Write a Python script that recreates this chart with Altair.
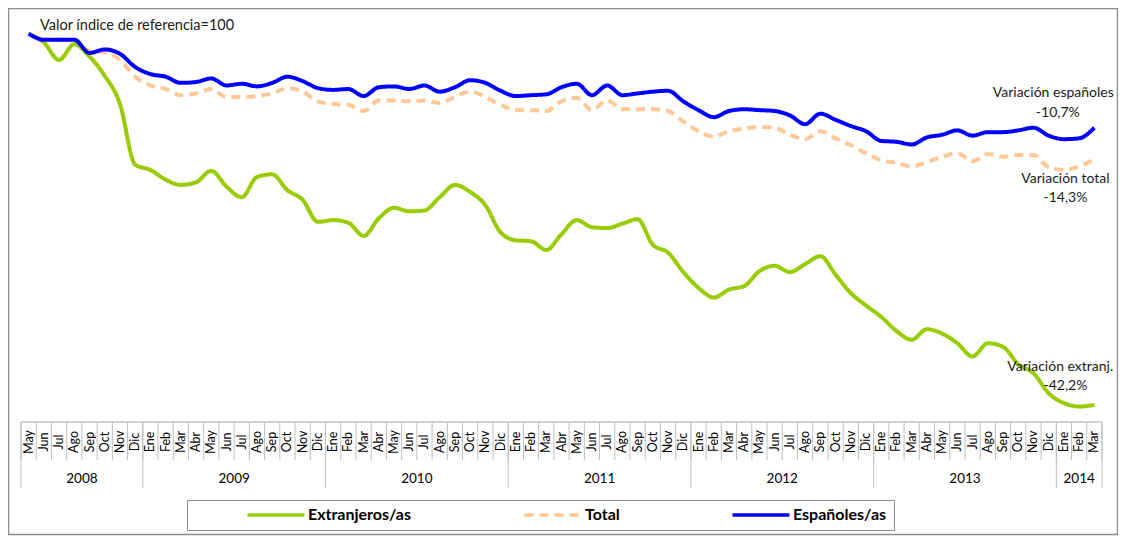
import altair as alt
import pandas as pd

# ---------------- data ----------------
months = (["May", "Jun", "Jul", "Ago", "Sep", "Oct", "Nov", "Dic"]
          + ["Ene", "Feb", "Mar", "Abr", "May", "Jun", "Jul", "Ago", "Sep", "Oct", "Nov", "Dic"] * 5
          + ["Ene", "Feb", "Mar"])
years = ["2008", "2009", "2010", "2011", "2012", "2013", "2014"]
year_counts = [8, 12, 12, 12, 12, 12, 3]

extranjeros = [100.0, 99.0, 97.0, 98.8, 97.4, 95.2, 92.0, 85.1, 84.5, 83.4, 82.8, 83.1,
               84.4, 82.6, 81.4, 83.7, 84.0, 82.2, 81.1, 78.6, 78.8, 78.5, 77.0, 79.0,
               80.2, 79.8, 79.9, 81.4, 82.8, 82.0, 80.5, 77.4, 76.5, 76.4, 75.4, 77.2,
               78.8, 78.0, 77.9, 78.4, 78.9, 76.0, 75.1, 72.9, 71.1, 70.0, 70.9, 71.3,
               73.0, 73.6, 72.9, 73.8, 74.7, 72.6, 70.5, 69.1, 67.8, 66.2, 65.2, 66.4,
               65.9, 64.8, 63.3, 64.8, 64.4, 62.4, 61.4, 59.1, 58.0, 57.6, 57.8]
total = [100.0, 99.3, 99.3, 99.3, 98.0, 97.9, 97.0, 95.1, 94.1, 93.7, 93.0, 93.2,
         93.7, 92.8, 92.8, 92.9, 93.2, 93.8, 93.4, 92.3, 92.0, 91.9, 91.2, 92.4,
         92.4, 92.3, 92.4, 92.1, 92.8, 93.4, 92.8, 91.9, 91.3, 91.3, 91.2, 92.3,
         92.7, 91.3, 92.4, 91.4, 91.4, 91.4, 91.2, 90.0, 88.9, 88.3, 88.9, 89.2,
         89.4, 89.3, 88.5, 88.0, 88.9, 88.1, 87.3, 86.4, 85.6, 85.3, 84.9, 85.4,
         86.0, 86.4, 85.5, 86.3, 86.0, 86.2, 86.2, 84.8, 84.5, 84.9, 85.7]
espanoles = [100.0, 99.3, 99.3, 99.3, 97.8, 98.2, 97.7, 96.2, 95.4, 95.1, 94.4, 94.5,
             94.9, 94.1, 94.3, 94.0, 94.4, 95.1, 94.6, 93.8, 93.6, 93.7, 92.9, 93.9,
             94.0, 93.7, 94.1, 93.4, 93.9, 94.7, 94.4, 93.5, 92.9, 93.0, 93.1, 93.9,
             94.3, 93.0, 94.1, 93.0, 93.2, 93.4, 93.5, 92.3, 91.3, 90.5, 91.2, 91.4,
             91.3, 91.2, 90.7, 89.7, 90.9, 90.2, 89.5, 88.9, 87.8, 87.7, 87.4, 88.2,
             88.5, 89.0, 88.4, 88.8, 88.8, 89.0, 89.3, 88.4, 88.0, 88.1, 89.3]

series_names = ["Extranjeros/as", "Total", "Españoles/as"]
series_colors = ["#99CC00", "#FFC896", "#0000FF"]
series_dash = [[1, 0], [9, 6], [1, 0]]

# annotation texts and their anchor (month index, index value)
ann_text = ["Variación españoles", "-10,7%", "Variación total", "-14,3%",
            "Variación extranj.", "-42,2%"]
ann_x = [67.3, 67.6, 68.1, 68.1, 67.76, 68.1]
ann_y = [93.25, 90.97, 83.47, 81.31, 62.10, 59.94]
ref_text = ["Valor índice de referencia=100"]
ref_x = [0.75]
ref_y = [100.9]

# ---------------- tables ----------------
assert len(months) == len(extranjeros) == len(total) == len(espanoles)
n = len(months)
rows = []
for name, vals in zip(series_names, [extranjeros, total, espanoles]):
    for i, v in enumerate(vals):
        rows.append({"idx": i, "serie": name, "valor": v})
df = pd.DataFrame(rows)

month_df = pd.DataFrame({"idx": list(range(n)), "mes": months})
month_bounds = pd.DataFrame({"b": [i - 0.5 for i in range(n + 1)]})
yb, yc, start = [], [], 0
for c in year_counts:
    yb.append(start - 0.5)
    yc.append(start + (c - 1) / 2)
    start += c
yb.append(start - 0.5)
year_bounds = pd.DataFrame({"b": yb})
year_df = pd.DataFrame({"c": yc, "anio": years})
ann_df = pd.DataFrame({"x": ann_x, "y": ann_y, "t": ann_text})
ref_df = pd.DataFrame({"x": ref_x, "y": ref_y, "t": ref_text})

W, H = 1081, 406
FONT = "Lato"
xs = alt.Scale(domain=[-0.5, n - 0.5], nice=False, zero=False)
ys = alt.Scale(domain=[55.85, 102], nice=False, zero=False)

base_one = alt.Chart(pd.DataFrame({"k": [0]}))

frame = base_one.mark_rect(fillOpacity=0, stroke="#8C8C8C", strokeWidth=1.5).encode(
    x=alt.value(-12.5), x2=alt.value(W + 15.5), y=alt.value(-7.5), y2=alt.value(H + 112.5))

axis_line = base_one.mark_rule(color="#A6A6A6", strokeWidth=1).encode(
    x=alt.value(0), x2=alt.value(W), y=alt.value(H))

mticks = alt.Chart(month_bounds).mark_rule(color="#BFBFBF", strokeWidth=1).encode(
    x=alt.X("b:Q", scale=xs, axis=None), y=alt.value(H), y2=alt.value(H + 38))

yticks = alt.Chart(year_bounds).mark_rule(color="#BFBFBF", strokeWidth=1).encode(
    x=alt.X("b:Q", scale=xs, axis=None), y=alt.value(H), y2=alt.value(H + 66))

mlabels = alt.Chart(month_df).mark_text(
    angle=270, align="center", baseline="middle", font=FONT, fontSize=12.5, color="#000000"
).encode(x=alt.X("idx:Q", scale=xs, axis=None), y=alt.value(H + 20), text="mes:N")

ylabels = alt.Chart(year_df).mark_text(
    align="center", baseline="middle", font=FONT, fontSize=13.5, color="#000000"
).encode(x=alt.X("c:Q", scale=xs, axis=None), y=alt.value(H + 57), text="anio:N")

lines = alt.Chart(df).mark_line(interpolate="monotone", strokeWidth=4).encode(
    x=alt.X("idx:Q", scale=xs, axis=None),
    y=alt.Y("valor:Q", scale=ys, axis=None),
    color=alt.Color("serie:N", scale=alt.Scale(domain=series_names, range=series_colors),
                    legend=alt.Legend(
                        title=None, orient="none", legendX=166, legendY=484,
                        direction="horizontal", columns=3, symbolType="M-5,0H5",
                        symbolSize=130, symbolStrokeWidth=3.5, symbolOffset=74,
                        columnPadding=59, labelOffset=24, labelLimit=400,
                        labelFont=FONT, labelFontSize=16, labelFontWeight="bold",
                        labelColor="#000000", strokeColor="#8C8C8C", padding=7)),
    strokeDash=alt.StrokeDash("serie:N", scale=alt.Scale(domain=series_names, range=series_dash),
                              legend=None),
    order=alt.Order("idx:Q"),
)

ann = alt.Chart(ann_df).mark_text(
    align="center", baseline="middle", font=FONT, fontSize=14, color="#1A1A1A"
).encode(x=alt.X("x:Q", scale=xs, axis=None), y=alt.Y("y:Q", scale=ys, axis=None), text="t:N")

ref = alt.Chart(ref_df).mark_text(
    align="left", baseline="middle", font=FONT, fontSize=14.5, color="#1A1A1A"
).encode(x=alt.X("x:Q", scale=xs, axis=None), y=alt.Y("y:Q", scale=ys, axis=None), text="t:N")

chart = alt.layer(frame, axis_line, mticks, yticks, mlabels, ylabels, lines, ann, ref).properties(
    width=W, height=H,
    autosize=alt.AutoSizeParams(type="none"),
    padding={"left": 13, "top": 8, "right": 16, "bottom": 114},
    background="white",
).configure_view(stroke=None)

chart.save("out.html", embed_options={"renderer": "svg", "actions": False})
